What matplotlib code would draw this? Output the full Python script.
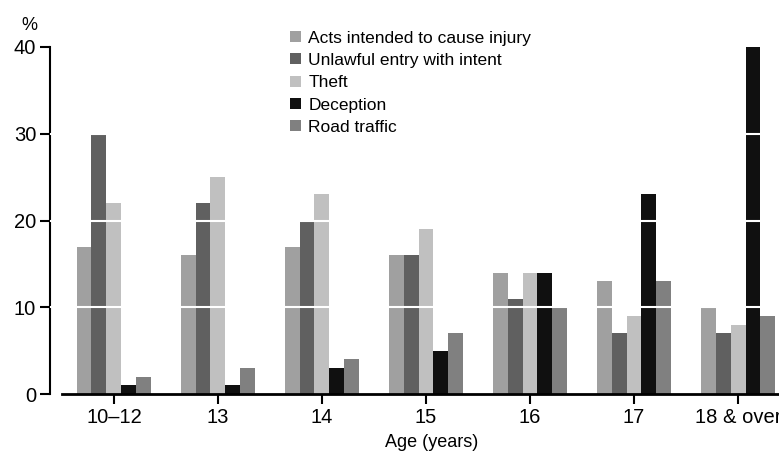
import matplotlib
matplotlib.use("Agg")
import matplotlib.pyplot as plt
import numpy as np

categories = ["10–12", "13", "14", "15", "16", "17", "18 & over"]
series_names = ["Acts intended to cause injury", "Unlawful entry with intent",
                "Theft", "Deception", "Road traffic"]
acts = [17, 16, 17, 16, 14, 13, 10]
unlawful = [30, 22, 20, 16, 11, 7, 7]
theft = [22, 25, 23, 19, 14, 9, 8]
deception = [1, 1, 3, 5, 14, 23, 40]
road = [2, 3, 4, 7, 10, 13, 9]
colors = ["#a0a0a0", "#606060", "#c0c0c0", "#101010", "#808080"]

plt.rcParams['font.family'] = ['Liberation Sans', 'DejaVu Sans']

fig = plt.figure(figsize=(7.79, 4.54), dpi=100)
ax = fig.add_axes([50/779, 1-394/454, 1-50/779, (394-47)/454])

x = np.arange(len(categories))
w = 0.144
data = [acts, unlawful, theft, deception, road]
for i, (vals, name, c) in enumerate(zip(data, series_names, colors)):
    ax.bar(x + (i-2)*w, vals, width=w, color=c, label=name, zorder=2, linewidth=0)

for yv in [10, 20, 30]:
    ax.axhline(yv, color="white", linewidth=1.5, zorder=3)

ax.set_ylim(0, 40)
ax.set_xlim(-0.615, 6.394)
ax.set_yticks([0, 10, 20, 30, 40])
ax.set_xticks(x)
ax.set_xticklabels(categories)
ax.tick_params(axis='both', labelsize=14.5, length=7, width=1.5, color='black')
ax.tick_params(axis='y', pad=3)
ax.tick_params(axis='x', pad=3)
for s in ['top', 'right']:
    ax.spines[s].set_visible(False)
ax.spines['left'].set_linewidth(1.5)
ax.spines['bottom'].set_linewidth(2)
ax.spines['bottom'].set_bounds(-0.5, 6.394)
ax.set_xlabel("Age (years)", fontsize=13)
ax.xaxis.set_label_coords((432-50)/729, -0.115)
ax.text(-0.81, 41.5, "%", fontsize=13, ha='center', va='bottom')

ax.legend(loc='upper left', bbox_to_anchor=(0.329, 1.047), frameon=False,
          fontsize=12.5, handlelength=0.62, handleheight=0.62, handletextpad=0.45,
          labelspacing=0.42, borderaxespad=0, borderpad=0)

fig.savefig("out.png", dpi=100)
